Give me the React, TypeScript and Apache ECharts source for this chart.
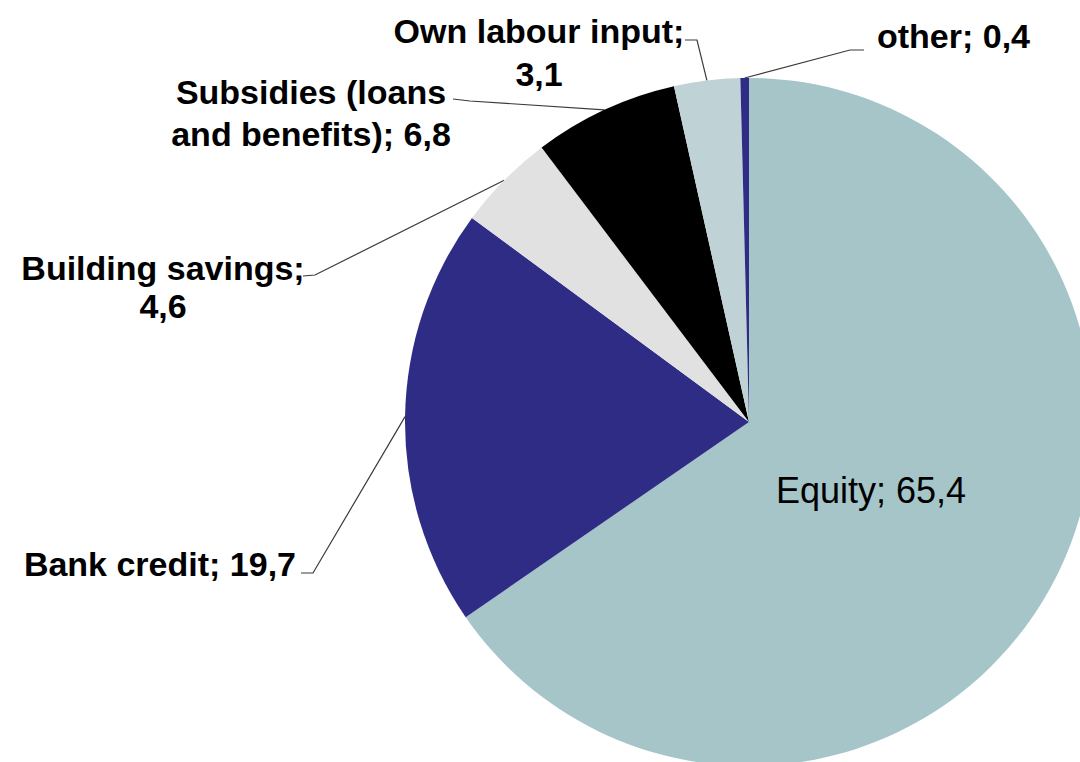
import React, { useEffect, useRef } from "react";
import * as echarts from "echarts";

const categories = [
  "Equity",
  "Bank credit",
  "Building savings",
  "Subsidies (loans\nand benefits)",
  "Own labour input",
  "other",
];
const values = [65.4, 19.7, 4.6, 6.8, 3.1, 0.4];
const valueOnNewLine = [false, false, true, false, true, false];
const colors = ["#A5C5C9", "#2E2C85", "#E1E1E1", "#000000", "#BFD3D7", "#2E2C85"];

// label placement (text anchor and leader-line elbow points)
const labelPlacement: any[] = [
  { x: 871, y: 490, align: "center", line: null },
  { x: 296, y: 564, align: "right", line: [[313, 573], [301, 573]] },
  { x: 163, y: 287, align: "center", lineHeight: 38, line: [[315, 275], [303, 276]] },
  { x: 311, y: 113, align: "center", lineHeight: 42, line: [[470, 101], [453, 99]] },
  { x: 539, y: 52, align: "center", lineHeight: 43, line: [[697, 40], [685, 40]] },
  { x: 877, y: 36, align: "left", line: [[850, 50], [864, 50]] },
];

const fmt = (v: number) => String(v).replace(".", ",");

export default function App() {
  const ref = useRef<HTMLDivElement>(null);
  useEffect(() => {
    const chart = echarts.init(ref.current!, null, { renderer: "svg" });
    const data = categories.map((name, i) => ({
      name,
      value: values[i],
      itemStyle: { color: colors[i] },
      label:
        i === 0
          ? { position: "inside", fontWeight: "normal", fontSize: 36 }
          : { lineHeight: labelPlacement[i].lineHeight || 40 },
      labelLine: { show: i !== 0 },
    }));
    chart.setOption({
      animation: false,
      backgroundColor: "#ffffff",
      series: [
        {
          type: "pie",
          center: [749, 422],
          radius: 344,
          startAngle: 90,
          clockwise: true,
          avoidLabelOverlap: false,
          data,
          label: {
            show: true,
            color: "#000000",
            fontFamily: "Liberation Sans, Arial, sans-serif",
            fontWeight: "bold",
            fontSize: 34,
            formatter: (p: any) =>
              p.name + ";" + (valueOnNewLine[p.dataIndex] ? "\n" : " ") + fmt(p.value),
          },
          labelLine: {
            show: true,
            lineStyle: { color: "#3a3a3a", width: 1.2 },
          },
          labelLayout: (params: any) => {
            const pl = labelPlacement[params.dataIndex];
            const res: any = {
              x: pl.x,
              y: pl.y,
              align: pl.align,
              verticalAlign: "middle",
            };
            if (pl.line && params.labelLinePoints) {
              res.labelLinePoints = [params.labelLinePoints[0], pl.line[0], pl.line[1]];
            }
            return res;
          },
        },
      ],
    });
    return () => chart.dispose();
  }, []);
  return (
    <div
      ref={ref}
      style={{ position: "absolute", left: 0, top: 0, width: 1080, height: 762 }}
    />
  );
}
